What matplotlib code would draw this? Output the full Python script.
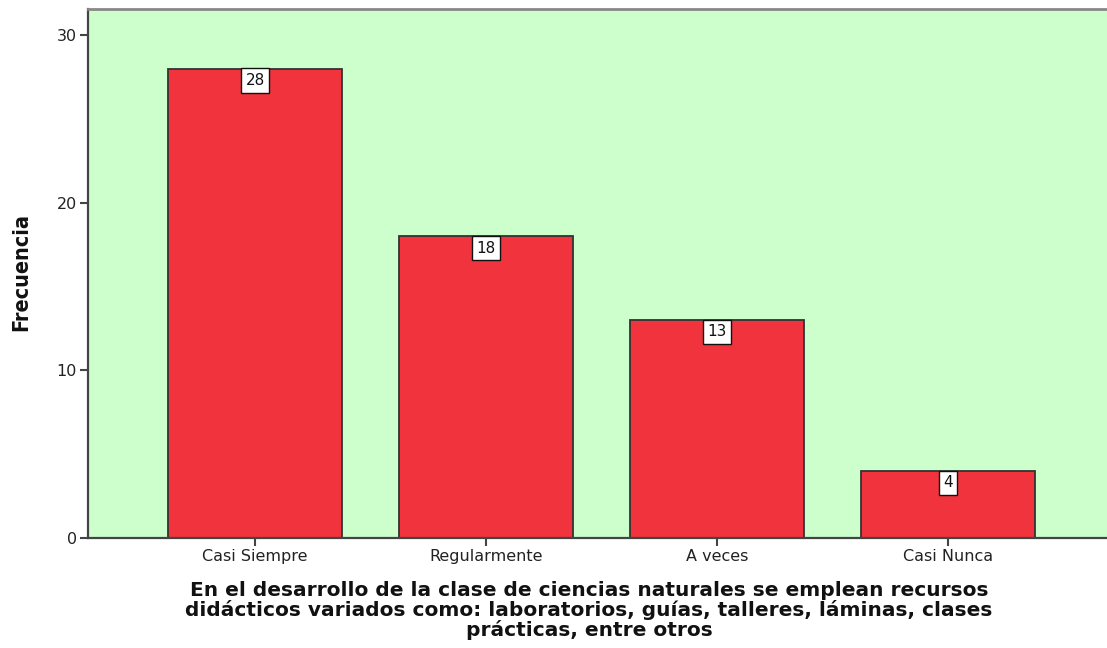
import matplotlib
matplotlib.use("Agg")
import matplotlib.pyplot as plt

categories = ["Casi Siempre", "Regularmente", "A veces", "Casi Nunca"]
frecuencias = [28, 18, 13, 4]
yticks = [0, 10, 20, 30]
ylabel = "Frecuencia"
xlabel = ("En el desarrollo de la clase de ciencias naturales se emplean recursos\n"
          "didácticos variados como: laboratorios, guías, talleres, láminas, clases\n"
          "prácticas, entre otros")

fig = plt.figure(figsize=(11.07, 6.48), dpi=100)
ax = fig.add_axes([88 / 1107, 1 - 538 / 648, 1 - 88 / 1107, (538 - 9) / 648])
ax.set_facecolor("#CCFFCC")

x = list(range(len(categories)))
bars = ax.bar(x, frecuencias, width=0.75, color="#F0333C", edgecolor="#333333", linewidth=1.3, zorder=2)

for xi, v in zip(x, frecuencias):
    ax.annotate(str(v), xy=(xi, v), xytext=(0, -3.2), textcoords="offset points",
                ha="center", va="top", fontsize=11, color="#111111", zorder=4,
                bbox=dict(boxstyle="square,pad=0.3", facecolor="white", edgecolor="#111111", linewidth=1.0))

ax.set_xlim(-0.723, 3.688)
ax.set_ylim(0, 31.55)
ax.set_xticks(x)
ax.set_xticklabels(categories, fontsize=11.5, color="#222222")
ax.set_yticks(yticks)
ax.set_yticklabels([str(t) for t in yticks], fontsize=11.5, color="#222222")
ax.tick_params(axis="both", direction="out", length=6, width=1.5, color="#444444", pad=2)

for s in ["left", "bottom"]:
    ax.spines[s].set_color("#444444")
    ax.spines[s].set_linewidth(1.6)
ax.spines["top"].set_color("#888888")
ax.spines["top"].set_linewidth(2.0)
ax.spines["right"].set_visible(False)

fig.text(21 / 1107, 1 - 272 / 648, ylabel, rotation=90, ha="center", va="center",
         fontsize=15.5, fontweight="bold", fontstretch="condensed", color="#111111")
fig.text(589 / 1107, 1 - 611 / 648, xlabel, ha="center", va="center",
         fontsize=14.5, fontweight="bold", color="#111111", linespacing=1.0)

fig.savefig("out.png", dpi=100)
